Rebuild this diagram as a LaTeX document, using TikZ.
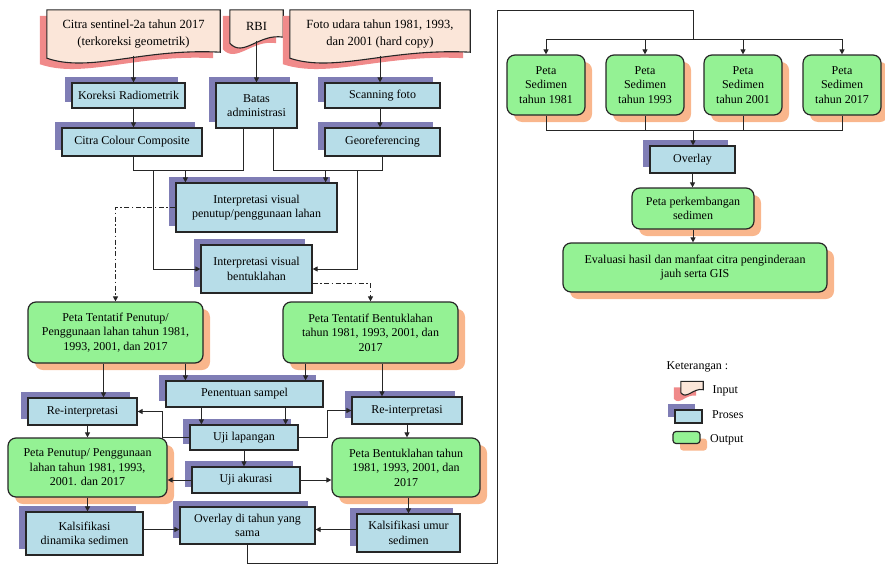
\documentclass[tikz,border=0pt]{standalone}
\usepackage{fontspec}
\setmainfont{Liberation Serif}
\usetikzlibrary{arrows.meta, positioning, calc, shadows, backgrounds}
\definecolor{inpfill}{HTML}{FBE6D9}
\definecolor{inpshadow}{HTML}{F08A8A}
\definecolor{prcfill}{HTML}{B7DDE8}
\definecolor{prcshadow}{HTML}{7F7DB5}
\definecolor{outfill}{HTML}{94F294}
\definecolor{outshadow}{HTML}{F9B68C}
\definecolor{lncol}{HTML}{262626}
% style, node, wave, dx, dy
\newcommand{\docpath}[5]{%
  \path[#1] ($(#2.north west)+(#4,#5)$) -- ($(#2.north east)+(#4,#5)$)
    -- ($(#2.south east)+(#4,#5-#3)$)
    .. controls ($(#2.south west)!0.55!(#2.south east)+(#4,#5-1.7*#3)$)
    and ($(#2.south west)!0.25!(#2.south east)+(#4,#5+2.5*#3)$)
    .. ($(#2.south west)+(#4,#5)$) -- cycle;}
\newcommand{\docshape}[2]{%
  \begin{scope}[on background layer]
    \docpath{fill=inpshadow}{#1}{#2}{-7}{6}
    \docpath{inpbox}{#1}{#2}{0}{0}
  \end{scope}}

\begin{document}
\begin{tikzpicture}[x=1pt, y=-1pt,
  font=\fontsize{12}{14.5}\selectfont,
  inputdoc/.style={minimum width=#1pt, inner sep=2pt, align=center,
    font=\fontsize{12.5}{17}\selectfont},
  inpbox/.style={draw=lncol, fill=inpfill, line width=1.1pt},
  prosesbox/.style 2 args={draw=lncol, fill=prcfill, line width=1.2pt,
    minimum width=#1pt, minimum height=#2pt, align=center, inner sep=2pt,
    general shadow={fill=prcshadow, shadow xshift=-7pt, shadow yshift=6pt}},
  outbox/.style 2 args={draw=lncol, fill=outfill, line width=1.2pt, rounded corners=8pt,
    minimum width=#1pt, minimum height=#2pt, align=center, inner sep=2pt,
    general shadow={fill=outshadow, shadow xshift=7pt, shadow yshift=-7pt}},
  link/.style={draw=lncol, line width=1pt},
  arr/.style={link, -{Triangle[length=5pt, width=5pt]}},
  dashdot/.style={dash pattern=on 5pt off 2.5pt on 1.5pt off 2.5pt},
]
  \useasboundingbox (0,0) rectangle (885,565);

  \node[inputdoc=173, minimum height=48pt] (citra) at (133.5,34) {Citra sentinel-2a tahun 2017\\(terkoreksi geometrik)};
  \node[inputdoc=53, minimum height=33pt] (rbi) at (256.5,26.5) {RBI};
  \node[inputdoc=180, minimum height=48pt] (foto) at (380,34) {Foto udara tahun 1981, 1993,\\dan 2001 (hard copy)};
  \docshape{citra}{6}
  \docshape{rbi}{6}
  \docshape{foto}{6}

  \node[prosesbox={113}{25}] (korad) at (128.5,95.5) {Koreksi Radiometrik};
  \node[prosesbox={81}{45}] (batas) at (256.5,105.5) {Batas\\administrasi};
  \node[prosesbox={115}{25}] (scan) at (382.5,95.5) {Scanning foto};
  \node[prosesbox={140}{28}] (ccc) at (132,142) {Citra Colour Composite};
  \node[prosesbox={115}{28}] (georef) at (382.5,142) {Georeferencing};
  \node[prosesbox={161}{49}] (ivp) at (256.5,207.5) {Interpretasi visual\\penutup/penggunaan lahan};
  \node[prosesbox={111}{48}] (ivb) at (256.5,269) {Interpretasi visual\\bentuklahan};
  \node[outbox={175}{61}] (ptp) at (115.5,332.5) {Peta Tentatif Penutup/\\Penggunaan lahan tahun 1981,\\1993, 2001, dan 2017};
  \node[outbox={175}{61}] (ptb) at (370.5,332.5) {Peta Tentatif Bentuklahan\\tahun 1981, 1993, 2001, dan\\2017};
  \node[prosesbox={157}{26}] (sampel) at (244.5,394) {Penentuan sampel};
  \node[prosesbox={109}{27}] (reL) at (82.5,411.5) {Re-interpretasi};
  \node[prosesbox={110}{27}] (reR) at (407,410.5) {Re-interpretasi};
  \node[prosesbox={108}{25}] (ujilap) at (244,437.5) {Uji lapangan};
  \node[outbox={159}{59}] (ppen) at (87.5,467.5) {Peta Penutup/ Penggunaan\\lahan tahun 1981, 1993,\\2001. dan 2017};
  \node[outbox={148}{59}] (pbent) at (406,467.5) {Peta Bentuklahan tahun\\1981, 1993, 2001, dan\\2017};
  \node[prosesbox={108}{26}] (ujiak) at (246,480) {Uji akurasi};
  \node[prosesbox={117}{43}] (kdin) at (84.5,533.5) {Kalsifikasi\\dinamika sedimen};
  \node[prosesbox={135}{37}] (ovl) at (247.5,525.5) {Overlay di tahun yang\\sama};
  \node[prosesbox={103}{38}] (kumur) at (408.5,533) {Kalsifikasi umur\\sedimen};

  \foreach \n/\yr/\cx in {ps1/1981/546, ps2/1993/645, ps3/2001/743, ps4/2017/842}
    \node[outbox={78}{60}] (\n) at (\cx,85) {Peta\\Sedimen\\tahun \yr};
  \node[prosesbox={85}{27}] (ovr) at (692.5,159.5) {Overlay};
  \node[outbox={122}{41}] (pps) at (693,208.5) {Peta perkembangan\\sedimen};
  \node[outbox={264}{49}] (evalu) at (695,267.5) {Evaluasi hasil dan manfaat citra penginderaan\\jauh serta GIS};

  \draw[arr] ([yshift=2.5pt]citra.south) -- (citra.south |- korad.north);
  \draw[arr] ([yshift=2.5pt]rbi.south) -- (batas);
  \draw[arr] ([yshift=2.5pt]foto.south) -- (foto.south |- scan.north);
  \draw[arr] (korad.south -| citra.south) -- (citra.south |- ccc.north);
  \draw[arr] (scan.south -| foto.south) -- (foto.south |- georef.north);

  \coordinate (legL) at ($(batas.south)+(-13,0)$);
  \coordinate (legR) at ($(batas.south)+(17,0)$);
  \coordinate (jL) at ($(legL)+(0,42)$);
  \coordinate (jR) at (legR |- jL);
  \coordinate (inL) at ($(ivp.north west)+(10,0)$);
  \coordinate (inR) at ($(ivp.north east)+(-12,0)$);
  \coordinate (dropL) at ($(jL)+(-90,0)$);
  \coordinate (dropR) at ($(jR)+(84,0)$);
  \draw[link] (ccc.south -| citra.south) |- (jL) -- (legL);
  \draw[link] (georef.south) |- (jR) -- (legR);
  \draw[arr] (inL |- jL) -- (inL);
  \draw[arr] (inR |- jR) -- (inR);
  \draw[arr] (dropL) |- (ivb.west);
  \draw[arr] (dropR) |- (ivb.east);
  \draw[arr, dashdot] (ivp.west) -| (ptp.north);
  \draw[arr, dashdot] ($(ivb.south east)+(0,-10)$) -| (ptb.north);

  \draw[arr] ([xshift=21pt]reL.north |- ptp.south) -- ([xshift=21pt]reL.north);
  \draw[arr] ([xshift=-25pt]reR.north |- ptb.south) -- ([xshift=-25pt]reR.north);
  \draw[arr] ([xshift=20pt]sampel.north west |- ptp.south) -- ([xshift=20pt]sampel.north west);
  \draw[arr] ([xshift=-18pt]sampel.north east |- ptb.south) -- ([xshift=-18pt]sampel.north east);
  \draw[arr] ([xshift=12pt]ujilap.north west |- sampel.south) -- ([xshift=12pt]ujilap.north west);
  \draw[arr] ([xshift=-13pt]ujilap.north east |- sampel.south) -- ([xshift=-13pt]ujilap.north east);
  \draw[arr] (ujilap.west) -- ++(-27,0) |- (reL.east);
  \draw[arr] (ujilap.east) -- ++(29,0) |- (reR.west);
  \draw[arr] (reL.south -| ppen.north) -- (ppen.north);
  \draw[arr] (reR.south) -- (reR.south |- pbent.north);
  \draw[arr] (ujilap.south) -- (ujilap.south |- ujiak.north);
  \draw[arr] (ujiak.west) -- (ujiak.west -| ppen.east);
  \draw[arr] (ujiak.east) -- (ujiak.east -| pbent.west);
  \draw[arr] (ppen.south) -- (ppen.south |- kdin.north);
  \draw[arr] (pbent.south -| kumur.north) -- (kumur.north);
  \coordinate (ovlL) at ($(ovl.west)+(0,4)$);
  \coordinate (ovlR) at ($(ovl.east)+(0,4)$);
  \draw[arr] (kdin.east |- ovlL) -- (ovlL);
  \draw[arr] (kumur.west |- ovlR) -- (ovlR);

  \coordinate (loopB) at (497,563);
  \coordinate (loopT) at (497,10);
  \coordinate (split) at (693,39);
  \coordinate (join) at (693,130);
  \draw[link] (ovl.south) |- (loopB) -- (loopT) -| (split);
  \foreach \n in {ps1,ps2,ps3,ps4} {
    \draw[arr] (split) -| (\n.north);
    \draw[link] (\n.south) |- (join);
  }
  \draw[arr] (join) -- (join |- ovr.north);
  \draw[arr] (ovr.south) -- (ovr.south |- pps.north);
  \draw[arr] (pps.south) -- (pps.south |- evalu.north);

  \node[anchor=west] (ket) at (663,367) {Keterangan :};
  \node[inputdoc=22, minimum height=11pt, inner sep=0pt] (lgin) at (692,387) {};
  \docshape{lgin}{3}
  \node[right=6pt of lgin, yshift=-4pt] (lginp) {Input};
  \node[prosesbox={27}{13}, inner sep=0pt] (lgpr) at (688.5,416.5) {};
  \node[right=6pt of lgpr, yshift=2pt] (lgprs) {Proses};
  \node[outbox={27}{12}, rounded corners=3pt, inner sep=0pt] (lgout) at (686.5,437.5) {};
  \node[right=6pt of lgout, yshift=-2pt] (lgoutp) {Output};
\end{tikzpicture}
\end{document}
